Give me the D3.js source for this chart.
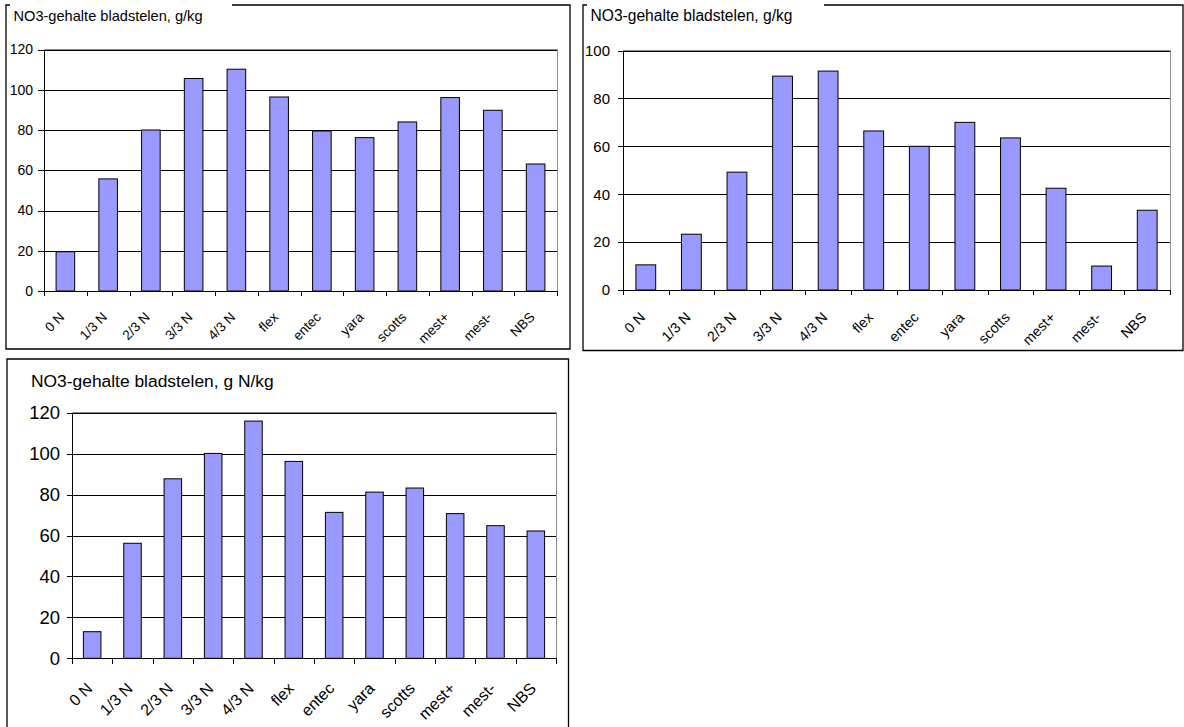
<!DOCTYPE html>
<html>
<head>
<meta charset="utf-8">
<script src="https://cdn.jsdelivr.net/npm/d3@7"></script>
<style>
  body { margin: 0; background: #fff; }
  svg { display: block; font-family: "Liberation Sans", Arial, sans-serif; }
</style>
</head>
<body>
<div id="graph"></div>
<script>
// categories shared by the three charts
const categories = ["0 N", "1/3 N", "2/3 N", "3/3 N", "4/3 N", "flex", "entec", "yara", "scotts", "mest+", "mest-", "NBS"];

// values
const valuesTopLeft = [19.5, 55.7, 80, 105.6, 110.2, 96.4, 79.5, 76.2, 84, 96.1, 89.8, 63.1];
const valuesTopRight = [10.5, 23.3, 49.2, 89.3, 91.4, 66.4, 60, 70, 63.5, 42.5, 10, 33.3];
const valuesBottom = [13, 56.2, 87.7, 100.1, 115.9, 96.2, 71.3, 81.2, 83.2, 70.7, 64.8, 62.2];

// y tick labels
const ticksTopLeft = [0, 20, 40, 60, 80, 100, 120];
const ticksTopRight = [0, 20, 40, 60, 80, 100];
const ticksBottom = [0, 20, 40, 60, 80, 100, 120];

const titleTopLeft = "NO3-gehalte bladstelen, g/kg";
const titleTopRight = "NO3-gehalte bladstelen, g/kg";
const titleBottom = "NO3-gehalte bladstelen, g N/kg";

const w = 1184;
const h = 727;

const svg = d3.select("#graph")
  .append("svg")
  .attr("width", w)
  .attr("height", h);

function drawChart(cfg, values, ticks, title) {
  const g = svg.append("g");
  const f = cfg.frame;
  const p = cfg.plot;

  // outer frame, top line interrupted by the title box
  let framePath;
  if (f.gapEnd) {
    framePath = `M${f.gapEnd},${f.y0}H${f.x1}V${f.y1}H${f.x0}V${f.y0}H${f.x0 + 4}`;
  } else {
    framePath = `M${f.x0},${f.y0}H${f.x1}V${f.y1}H${f.x0}Z`;
  }
  g.append("path")
    .attr("d", framePath)
    .attr("fill", "none")
    .attr("stroke", "#000")
    .attr("stroke-width", 1.3);

  g.append("text")
    .attr("x", cfg.title.x)
    .attr("y", cfg.title.y)
    .style("font-size", cfg.title.size + "px")
    .attr("fill", "#000")
    .text(title);

  const yScale = d3.scaleLinear()
    .domain([0, d3.max(ticks)])
    .range([p.y1, p.y0]);

  const xScale = d3.scaleBand()
    .domain(categories)
    .range([p.x0, p.x1])
    .padding(0);

  const step = xScale.step();
  const barW = step / 2.3;

  // gridlines
  const yGrid = d3.axisLeft(yScale)
    .tickValues(ticks.slice(1))
    .tickSize(-(p.x1 - p.x0))
    .tickFormat("");
  g.append("g")
    .attr("transform", `translate(${p.x0},0)`)
    .call(yGrid)
    .call(s => s.select(".domain").remove())
    .selectAll("line")
    .attr("stroke", "#000")
    .attr("shape-rendering", "crispEdges");

  // plot area border (top and right) in grey
  g.append("path")
    .attr("d", `M${p.x0},${p.y0}H${p.x1}V${p.y1}`)
    .attr("fill", "none")
    .attr("stroke", "#8c8c8c")
    .attr("shape-rendering", "crispEdges");

  g.selectAll("rect.bar")
    .data(values)
    .enter()
    .append("rect")
    .attr("class", "bar")
    .attr("x", (d, i) => xScale(categories[i]) + (step - barW) / 2)
    .attr("y", (d) => yScale(d))
    .attr("width", barW)
    .attr("height", (d) => yScale(0) - yScale(d))
    .attr("fill", "#9999ff")
    .attr("stroke", "#000")
    .attr("stroke-width", 1);

  const yAxis = d3.axisLeft(yScale)
    .tickValues(ticks)
    .tickSize(cfg.yTick)
    .tickPadding(cfg.yPad)
    .tickFormat(d3.format("d"));
  const ya = g.append("g")
    .attr("transform", `translate(${p.x0},0)`)
    .call(yAxis);
  ya.selectAll("text").style("font-size", cfg.font + "px").attr("fill", "#000");
  ya.selectAll("line, path").attr("shape-rendering", "crispEdges");

  // x axis ticks sit between the categories
  const bScale = d3.scaleLinear().domain([0, categories.length]).range([p.x0, p.x1]);
  const xAxis = d3.axisBottom(bScale)
    .tickValues(d3.range(categories.length + 1))
    .tickSizeInner(cfg.xTick)
    .tickSizeOuter(0)
    .tickFormat("");
  g.append("g")
    .attr("transform", `translate(0,${p.y1})`)
    .call(xAxis)
    .selectAll("line, path")
    .attr("shape-rendering", "crispEdges");

  g.selectAll("text.xlab")
    .data(categories)
    .enter()
    .append("text")
    .attr("class", "xlab")
    .attr("text-anchor", "end")
    .attr("dy", "0.72em")
    .style("font-size", cfg.labFont + "px")
    .attr("transform", (d) => `translate(${xScale(d) + step / 2 + cfg.lab.dx},${p.y1 + cfg.lab.dy}) rotate(-45)`)
    .text((d) => d);
}

drawChart({
  frame: { x0: 6, y0: 5, x1: 570, y1: 349, gapEnd: 232 },
  plot: { x0: 44, y0: 49.5, x1: 557, y1: 291 },
  title: { x: 13.5, y: 20.5, size: 14.6 },
  font: 14, labFont: 13.5, yTick: 6, yPad: 5, xTick: 5,
  lab: { dx: -7, dy: 20 }
}, valuesTopLeft, ticksTopLeft, titleTopLeft);

drawChart({
  frame: { x0: 583, y0: 5, x1: 1183, y1: 350.5, gapEnd: 824 },
  plot: { x0: 623, y0: 50.5, x1: 1170, y1: 290 },
  title: { x: 590.5, y: 20.7, size: 15.6 },
  font: 15, labFont: 14.3, yTick: 5, yPad: 8, xTick: 5,
  lab: { dx: -7, dy: 21 }
}, valuesTopRight, ticksTopRight, titleTopRight);

drawChart({
  frame: { x0: 7, y0: 359, x1: 568.5, y1: 735, gapEnd: null },
  plot: { x0: 72, y0: 412.7, x1: 556, y1: 658.3 },
  title: { x: 31, y: 387.3, size: 17.4 },
  font: 18.5, labFont: 16, yTick: 5, yPad: 7, xTick: 6,
  lab: { dx: -7, dy: 23 }
}, valuesBottom, ticksBottom, titleBottom);
</script>
</body>
</html>
